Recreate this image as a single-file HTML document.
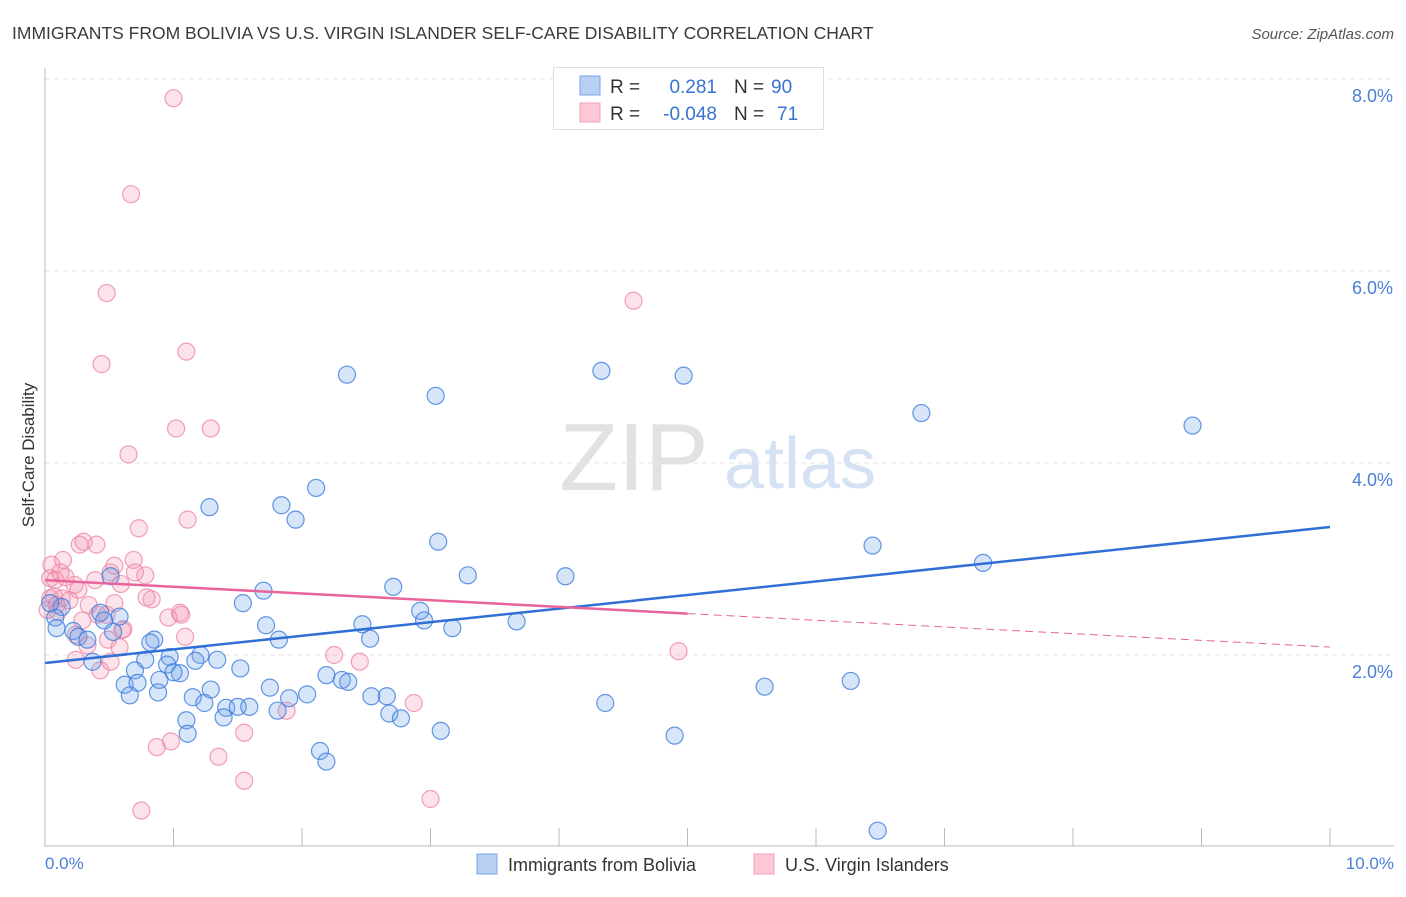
<!DOCTYPE html>
<html><head><meta charset="utf-8"><style>
body{margin:0;background:#fff;font-family:"Liberation Sans",sans-serif;}
svg text{font-family:"Liberation Sans",sans-serif;}
</style></head><body>
<svg id="chart" width="1406" height="892" xmlns="http://www.w3.org/2000/svg">
<text x="12" y="39" font-size="17.5" fill="#3a3a3a">IMMIGRANTS FROM BOLIVIA VS U.S. VIRGIN ISLANDER SELF-CARE DISABILITY CORRELATION CHART</text>
<text x="1394" y="39" font-size="15" fill="#555" font-style="italic" text-anchor="end">Source: ZipAtlas.com</text>
<g id="grid"></g>
<g>
<text x="634" y="490" font-size="96" font-family="Liberation Serif" fill="#e2e2e2" text-anchor="middle">ZIP</text>
<text x="800" y="488" font-size="72" fill="#d5e2f3" text-anchor="middle">atlas</text>
</g>
<line x1="45" y1="68" x2="45" y2="847" stroke="#bbb" stroke-width="1"/>
<line x1="45" y1="846" x2="1394" y2="846" stroke="#bbb" stroke-width="1"/>
<g id="xticks"></g>
<g id="ylabels"></g>
<text x="45" y="869" font-size="17" fill="#4a7fd6">0.0%</text>
<text x="1394" y="869" font-size="17" fill="#4a7fd6" text-anchor="end">10.0%</text>
<text transform="translate(34,455) rotate(-90)" font-size="17" fill="#333" text-anchor="middle">Self-Care Disability</text>
<g id="pink"></g>
<g id="blue"></g>
<g id="trends"></g>
<g>
<rect x="553.5" y="67.5" width="270" height="62" fill="#fff" stroke="#ddd"/>
<rect x="580" y="76" width="20" height="19" fill="#b7d0f4" stroke="#7aa6e6"/>
<rect x="580" y="103" width="20" height="19" fill="#fcc8d6" stroke="#f0a0b8"/>
<text x="610" y="93" font-size="19" fill="#333">R =</text>
<text x="717" y="93" font-size="19" fill="#3a72d0" text-anchor="end">0.281</text>
<text x="734" y="93" font-size="19" fill="#333">N =</text>
<text x="771" y="93" font-size="19" fill="#3a72d0">90</text>
<text x="610" y="120" font-size="19" fill="#333">R =</text>
<text x="717" y="120" font-size="19" fill="#3a72d0" text-anchor="end">-0.048</text>
<text x="734" y="120" font-size="19" fill="#333">N =</text>
<text x="777" y="120" font-size="19" fill="#3a72d0">71</text>
</g>
<g>
<g><rect x="477" y="854" width="20" height="20" fill="#b7d0f4" stroke="#7aa6e6"/><text x="508" y="871" font-size="18" fill="#333">Immigrants from Bolivia</text></g>
<g><rect x="754" y="854" width="20" height="20" fill="#fcc8d6" stroke="#f0a0b8"/><text x="785" y="871" font-size="18" fill="#333">U.S. Virgin Islanders</text></g>
</g>
</svg>
<script>
const yTicks=[2,4,6,8];
const yTickLabels=["2.0%","4.0%","6.0%","8.0%"];
const xTicks=[1,2,3,4,5,6,7,8,9,10];
const blueX=[2.35,3.04,4.33,4.97,6.82,8.93,1.28,1.84,2.11,1.95,3.06,6.44,7.30,3.29,4.05,2.71,1.70,0.51,1.54,2.92,2.95,3.67,3.17,2.47,2.53,1.72,1.82,0.85,0.82,0.43,0.58,0.46,0.13,0.08,0.04,0.09,0.22,0.26,0.33,0.37,0.53,0.78,0.97,1.21,1.34,1.52,0.95,1.05,1.00,1.17,0.89,0.70,0.62,0.72,0.66,0.88,1.15,1.29,1.24,1.10,1.11,1.41,1.39,1.50,1.59,1.75,1.90,2.04,1.81,2.19,2.31,2.36,2.54,2.66,2.68,2.77,3.08,2.14,2.19,4.36,4.90,5.60,6.27,6.48];
const blueY=[4.92,4.70,4.96,4.91,4.52,4.39,3.54,3.56,3.74,3.41,3.18,3.14,2.96,2.83,2.82,2.71,2.67,2.82,2.54,2.46,2.36,2.35,2.28,2.32,2.17,2.31,2.16,2.16,2.13,2.44,2.40,2.36,2.50,2.39,2.54,2.28,2.25,2.19,2.16,1.93,2.24,1.95,1.98,2.00,1.95,1.86,1.90,1.81,1.82,1.94,1.74,1.84,1.69,1.71,1.58,1.61,1.56,1.64,1.50,1.32,1.18,1.45,1.35,1.46,1.46,1.66,1.55,1.59,1.42,1.79,1.74,1.72,1.57,1.57,1.39,1.34,1.21,1.00,0.89,1.50,1.16,1.67,1.73,0.17];
const pinkX=[1.00,0.67,0.48,4.58,0.44,1.10,1.02,1.29,0.65,1.11,0.73,0.27,0.40,0.30,0.14,0.05,0.04,0.08,0.16,0.12,0.23,0.39,0.51,0.59,0.69,0.78,0.54,0.83,0.79,1.05,0.96,0.48,0.41,0.29,0.19,0.13,0.07,0.04,0.02,0.09,0.10,0.24,0.33,0.49,0.58,0.61,0.24,0.43,0.51,1.09,1.06,0.70,0.26,0.34,2.25,2.45,2.87,4.93,1.88,1.55,1.35,0.87,0.98,1.55,0.75,3.00,0.60,0.54];
const pinkY=[7.80,6.80,5.77,5.69,5.03,5.16,4.36,4.36,4.09,3.41,3.32,3.15,3.15,3.18,2.99,2.94,2.80,2.78,2.81,2.86,2.73,2.78,2.86,2.74,2.99,2.83,2.93,2.58,2.60,2.44,2.39,2.42,2.42,2.36,2.57,2.59,2.61,2.59,2.47,2.52,2.45,2.21,2.10,2.16,2.08,2.27,1.95,1.84,1.93,2.19,2.42,2.86,2.68,2.52,2.00,1.93,1.50,2.04,1.42,1.19,0.94,1.04,1.10,0.69,0.38,0.50,2.26,2.54];
const blueTrend=[1.917,3.333];
const pinkTrend=[2.78,2.083];
const pinkSolidEnd=5.0;
const NS="http://www.w3.org/2000/svg";
const xs=v=>45+v*128.5, ys=v=>847-v*96;
function mk(tag,attrs,parent){const e=document.createElementNS(NS,tag);for(const k in attrs)e.setAttribute(k,attrs[k]);parent.appendChild(e);return e;}
const grid=document.getElementById('grid'),yl=document.getElementById('ylabels'),xt=document.getElementById('xticks');
yTicks.forEach((t,i)=>{
 const l=mk('line',{x1:45,x2:1394,y1:ys(t),y2:ys(t),stroke:'#e3e3e3','stroke-dasharray':'5,4'},grid);
 
 
 const tx=mk('text',{x:1393,y:ys(t)+23,'font-size':18,fill:'#4a7fd6','text-anchor':'end'},yl);
 tx.textContent=yTickLabels[i];
 
 
});
xTicks.forEach(t=>{
 const l=mk('line',{x1:xs(t),x2:xs(t),y1:828,y2:846,stroke:'#bbb'},xt);
 
 
});
function pts(X,Y,g,fill,stroke,name){X.forEach((x,i)=>{
 const c=mk('circle',{cx:xs(x),cy:ys(Y[i]),r:8.5,fill:fill,stroke:stroke,'stroke-width':1.2},g);
 
 
});}
pts(pinkX,pinkY,document.getElementById('pink'),'rgba(244,150,178,0.28)','rgba(236,130,162,0.75)','virgin-islanders-point');
pts(blueX,blueY,document.getElementById('blue'),'rgba(110,160,235,0.28)','rgba(60,125,220,0.8)','bolivia-point');
const tr=document.getElementById('trends');
const b=mk('line',{x1:xs(0),y1:ys(blueTrend[0]),x2:xs(10),y2:ys(blueTrend[1]),stroke:'#2f6fd6','stroke-width':2.5},tr);


const pm=pinkTrend[0]+(pinkTrend[1]-pinkTrend[0])*pinkSolidEnd/10;
const p1=mk('line',{x1:xs(0),y1:ys(pinkTrend[0]),x2:xs(pinkSolidEnd),y2:ys(pm),stroke:'#e8649a','stroke-width':2.5},tr);


const p2=mk('line',{x1:xs(pinkSolidEnd),y1:ys(pm),x2:xs(10),y2:ys(pinkTrend[1]),stroke:'#e8649a','stroke-width':1,'stroke-dasharray':'8,5'},tr);


</script>
</body></html>
